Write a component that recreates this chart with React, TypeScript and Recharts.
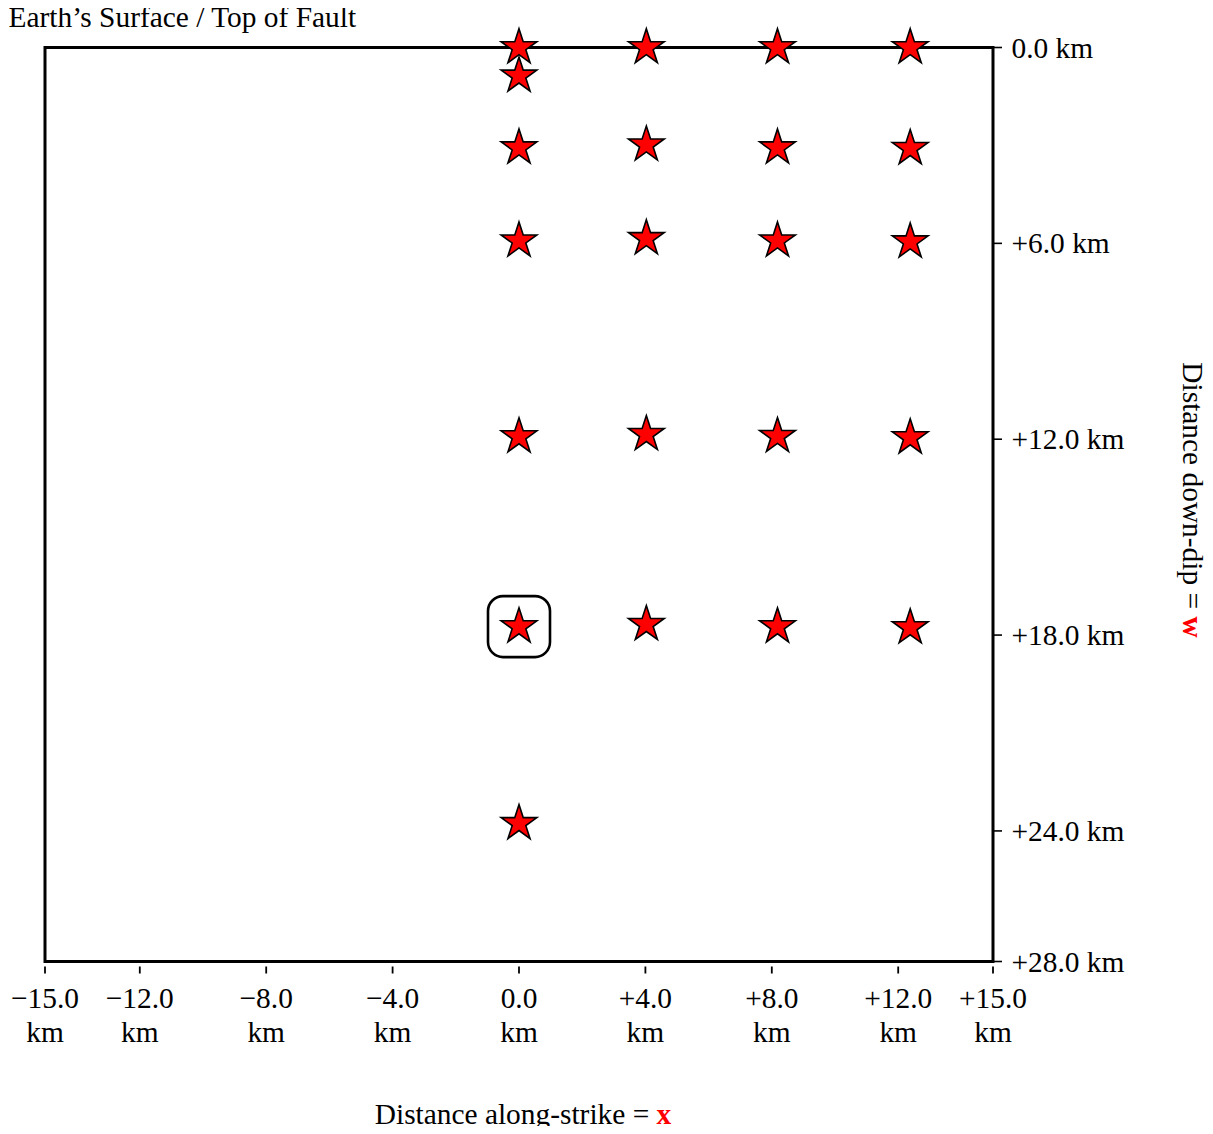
import React from 'react';
import { ScatterChart, Scatter, XAxis, YAxis, ReferenceArea } from 'recharts';

// ---- data ----
const xTickValues = [-15, -12, -8, -4, 0, 4, 8, 12, 15];
const xTickLabels = ['−15.0', '−12.0', '−8.0', '−4.0', '0.0', '+4.0', '+8.0', '+12.0', '+15.0'];
const yTickValues = [0, 6, 12, 18, 24, 28];
const yTickLabels = ['0.0 km', '+6.0 km', '+12.0 km', '+18.0 km', '+24.0 km', '+28.0 km'];

// along-strike position of each column of hypocentres (km)
const columnX = [0, 4.03, 8.18, 12.38];
// down-dip positions in each column (km)
const column0W = [0, 0.87, 3.07, 5.92, 11.92, 17.74, 23.77];
const column1W = [0, 2.98, 5.85, 11.85, 17.67];
const column2W = [0, 3.07, 5.92, 11.91, 17.74];
const column3W = [0, 3.09, 5.95, 11.95, 17.77];

const highlightX = [0];
const highlightW = [17.74];

const FONT = '"Liberation Serif", "Times New Roman", serif';
const FS = 29.4;

const columnsW = [column0W, column1W, column2W, column3W];
const stars = columnsW.flatMap((ws, i) => ws.map((w) => ({ x: columnX[i], w })));
const highlight = highlightX.map((x, i) => ({ x, w: highlightW[i] }));

const Star = (props: any) => {
  const { cx, cy } = props;
  if (cx == null || cy == null) return null;
  const R = 18.8;
  const r = R * 0.381966;
  const pts: string[] = [];
  for (let i = 0; i < 10; i++) {
    const a = -Math.PI / 2 + (i * Math.PI) / 5;
    const rad = i % 2 === 0 ? R : r;
    pts.push(`${cx + rad * Math.cos(a)},${cy + rad * Math.sin(a)}`);
  }
  return <polygon points={pts.join(' ')} fill="#ff0000" stroke="#000" strokeWidth={1.6} strokeLinejoin="miter" />;
};

const HighlightBox = (props: any) => {
  const { cx, cy } = props;
  if (cx == null || cy == null) return null;
  const w = 62;
  const h = 61;
  return <rect x={cx - w / 2} y={cy - h / 2} width={w} height={h} rx={15} ry={15} fill="none" stroke="#000" strokeWidth={2.6} />;
};

const XTick = (props: any) => {
  const { x, y, payload } = props;
  const i = xTickValues.indexOf(payload.value);
  const label = i >= 0 ? xTickLabels[i] : String(payload.value);
  return (
    <g>
      <line x1={x} x2={x} y1={y + 5} y2={y + 12} stroke="#000" strokeWidth={1.8} />
      <text x={x} y={y + 46.5} textAnchor="middle" fontFamily={FONT} fontSize={FS} fill="#000">
        {label}
      </text>
      <text x={x} y={y + 80} textAnchor="middle" fontFamily={FONT} fontSize={FS} fill="#000">
        km
      </text>
    </g>
  );
};

const YTick = (props: any) => {
  const { x, y, payload } = props;
  const i = yTickValues.indexOf(payload.value);
  const label = i >= 0 ? yTickLabels[i] : String(payload.value);
  return (
    <g>
      <line x1={x} x2={x + 9} y1={y} y2={y} stroke="#000" strokeWidth={1.6} />
      <text x={x + 18.5} y={y + 10} textAnchor="start" fontFamily={FONT} fontSize={FS} fill="#000">
        {label}
      </text>
    </g>
  );
};

const XLabel = (props: any) => {
  const vb = props.viewBox || {};
  const cx = vb.x + vb.width / 2 + 4;
  const y = vb.y + 162;
  return (
    <text x={cx} y={y} textAnchor="middle" fontFamily={FONT} fontSize={FS} fill="#000">
      <tspan>{'Distance along-strike = '}</tspan>
      <tspan fill="#ff0000" fontWeight="bold">x</tspan>
    </text>
  );
};

const YLabel = (props: any) => {
  const vb = props.viewBox || {};
  const x = vb.x + 190;
  const cy = vb.y + vb.height / 2 - 4.5;
  return (
    <text x={x} y={cy} textAnchor="middle" fontFamily={FONT} fontSize={FS} fill="#000" transform={`rotate(90, ${x}, ${cy})`}>
      <tspan>{'Distance down-dip = '}</tspan>
      <tspan fill="#ff0000" fontWeight="bold">w</tspan>
    </text>
  );
};

export default function App() {
  return (
    <div style={{ position: 'relative', width: 1197, height: 1118 }}>
      <ScatterChart width={1205} height={1126} margin={{ top: 39.5, right: 80, bottom: 0, left: 37 }}>
        <XAxis
          type="number"
          dataKey="x"
          domain={[-15, 15]}
          ticks={xTickValues}
          interval={0}
          tick={<XTick />}
          tickLine={false}
          axisLine={false}
          tickSize={0}
          tickMargin={0}
          height={172.5}
          label={{ content: (p: any) => <XLabel {...p} /> }}
        />
        <YAxis
          type="number"
          dataKey="w"
          orientation="right"
          reversed
          domain={[0, 28]}
          ticks={yTickValues}
          interval={0}
          tick={<YTick />}
          tickLine={false}
          axisLine={false}
          tickSize={0}
          tickMargin={0}
          width={140}
          label={{ content: (p: any) => <YLabel {...p} /> }}
        />
        <ReferenceArea x1={-15} x2={15} y1={0} y2={28} fill="none" fillOpacity={0} stroke="#000" strokeWidth={3} ifOverflow="visible" />
        <Scatter data={highlight} shape={<HighlightBox />} isAnimationActive={false} />
        <Scatter data={stars} shape={<Star />} isAnimationActive={false} />
      </ScatterChart>
      <svg style={{ position: 'absolute', left: 0, top: 0, overflow: 'visible' }} width={420} height={40}>
        <text x={0.5} y={19} fontFamily={FONT} fontSize={FS} fill="#000">
          Earth’s Surface / Top of Fault
        </text>
      </svg>
    </div>
  );
}
